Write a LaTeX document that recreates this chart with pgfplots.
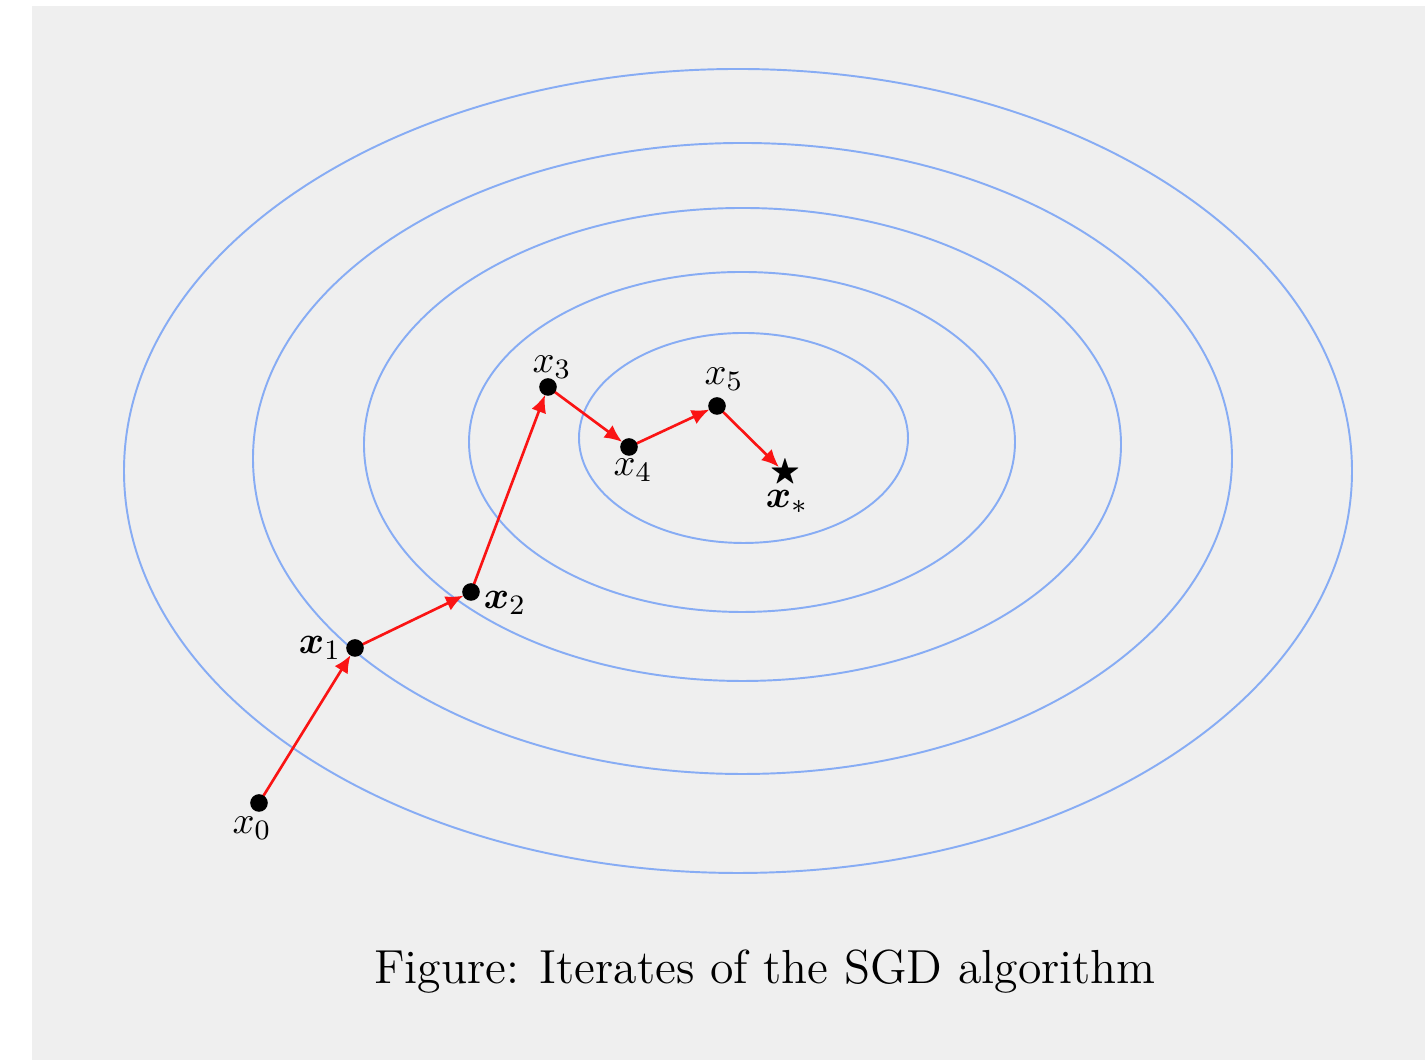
\documentclass[border=0pt]{standalone}
\usepackage{pgfplots}
\pgfplotsset{compat=1.18}
\usepackage{amssymb}
\usepackage{bm}
\usetikzlibrary{arrows.meta}

\definecolor{slidebg}{RGB}{239,239,239}
\definecolor{levelblue}{RGB}{135,172,244}
\definecolor{steparrow}{RGB}{250,20,20}

% SGD iterates x_0 ... x_5 and the minimiser x_*
\pgfplotstableread{
x   y
259 257
355 412
471 468
548 673
629 613
717 654
}\iterates
\pgfplotstableread{
x   y
785 587
}\optimum

\begin{document}
\begin{tikzpicture}
\begin{axis}[
  width=14.25cm, height=10.6cm, scale only axis,
  xmin=0, xmax=1425, ymin=0, ymax=1060,
  hide axis, clip=false,
]
  % page background
  \fill[white] (axis cs:0,0) rectangle (axis cs:1425,1060);
  \fill[slidebg] (axis cs:32,0) rectangle (axis cs:1425,1054);

  % level sets of the objective
  \begin{scope}[levelblue, line width=0.55pt]
    \draw (axis cs:743.5,622) ellipse [x radius=164.5, y radius=105];
    \draw (axis cs:742,618) ellipse [x radius=273, y radius=170];
    \draw (axis cs:742.5,615.5) ellipse [x radius=378.5, y radius=236.5];
    \draw (axis cs:742.5,601.5) ellipse [x radius=489.5, y radius=315.5];
    \draw (axis cs:738,589) ellipse [x radius=614, y radius=402];
  \end{scope}

  % steps between iterates
  \tikzset{sgdstep/.style={steparrow, line width=0.75pt,
      -{Latex[length=5pt,width=4.4pt]}, shorten >=2.4pt}}
  \addplot[sgdstep] coordinates {(259,257) (355,412)};
  \addplot[sgdstep] coordinates {(355,412) (471,468)};
  \addplot[sgdstep] coordinates {(471,468) (548,673)};
  \addplot[sgdstep] coordinates {(548,673) (629,613)};
  \addplot[sgdstep] coordinates {(629,613) (717,654)};
  \addplot[sgdstep] coordinates {(717,654) (785,587)};

  % iterates and optimum
  \addplot[only marks, mark=*, mark size=2.3pt, black] table {\iterates};
  \addplot[only marks, mark=text, black,
    text mark={\fontsize{9}{9}\selectfont$\bigstar$}]
    table {\optimum};

  % labels
  \begin{scope}[font=\fontsize{11}{13}\selectfont]
    \node at (axis cs:252,232) {$x_0$};
    \node at (axis cs:320,412) {$\bm{x}_1$};
    \node at (axis cs:505,457) {$\bm{x}_2$};
    \node at (axis cs:552,693) {$x_3$};
    \node at (axis cs:633,590) {$x_4$};
    \node at (axis cs:724,681) {$x_5$};
    \node at (axis cs:787,558) {$\bm{x}_{\ast}$};
  \end{scope}

  \node[font=\fontsize{13.6}{16}\selectfont] at (axis cs:765,88)
    {Figure: Iterates of the SGD algorithm};
\end{axis}
\end{tikzpicture}
\end{document}
